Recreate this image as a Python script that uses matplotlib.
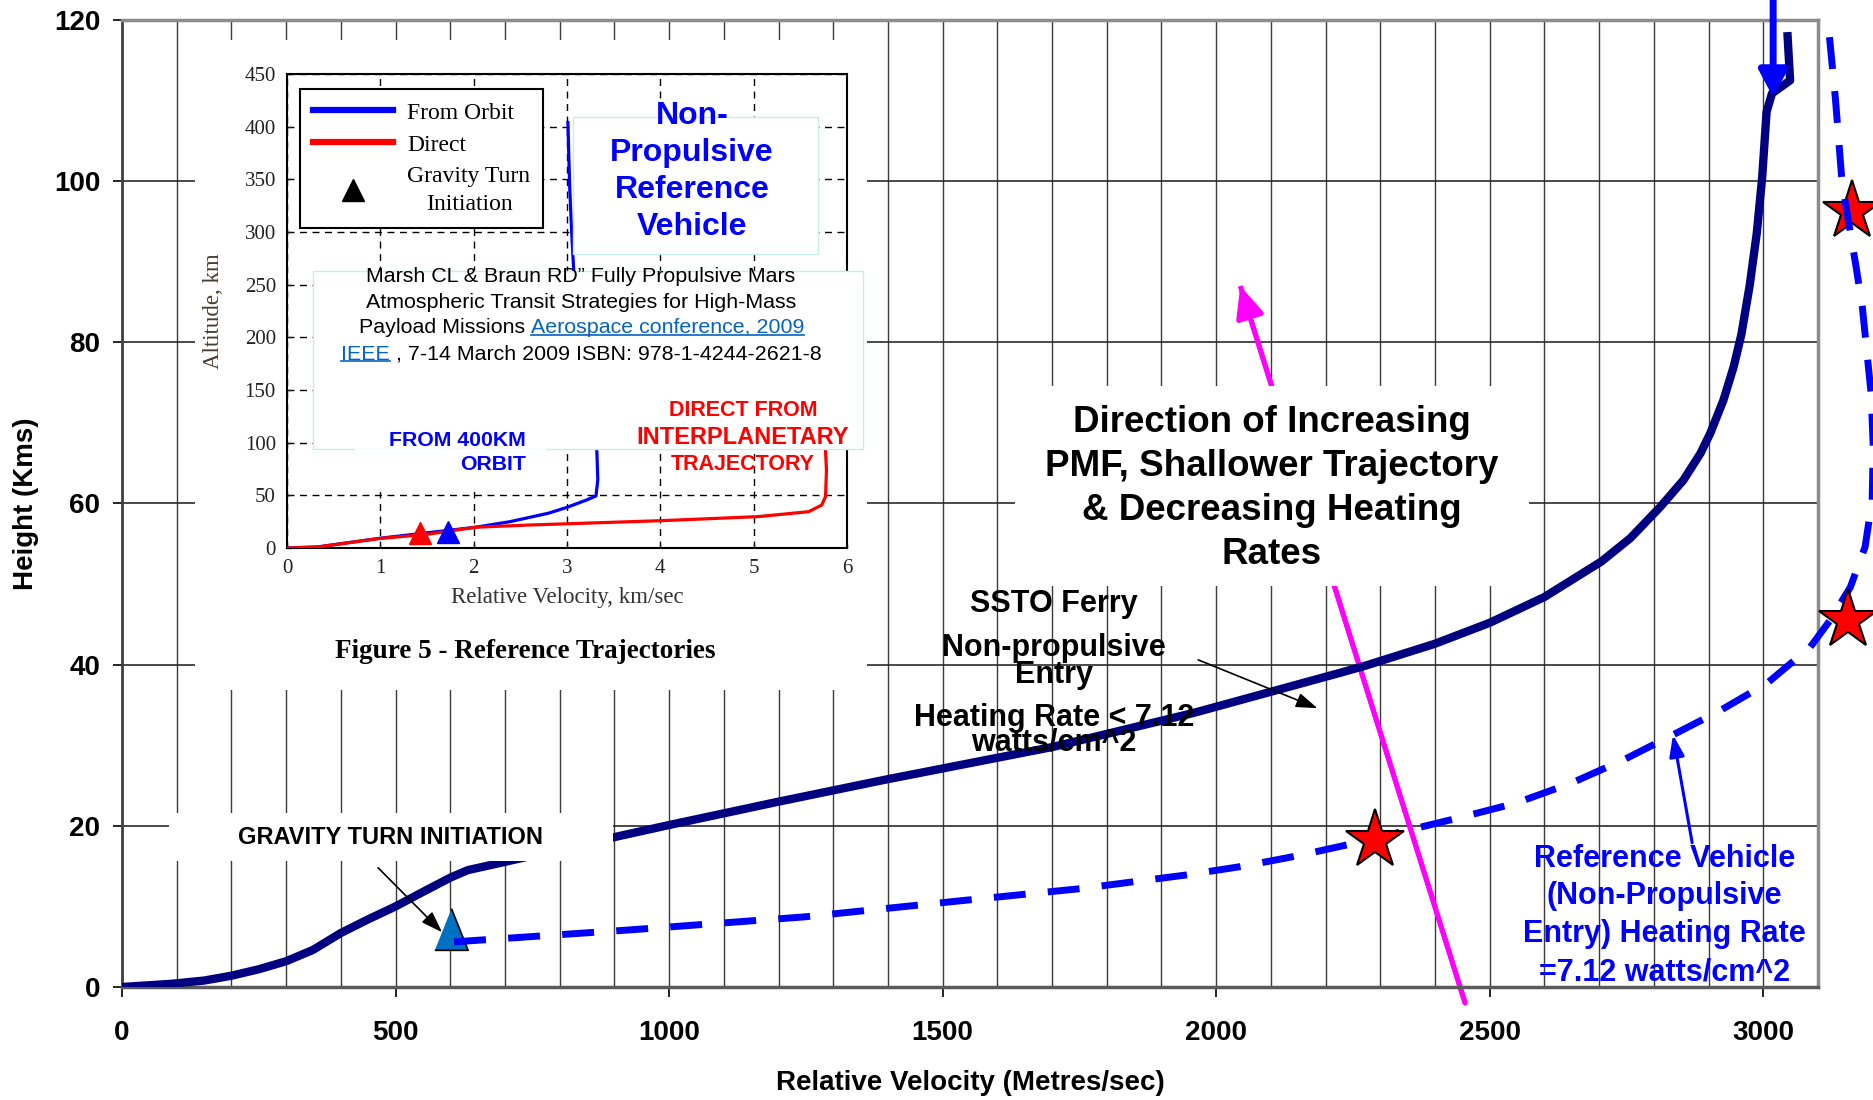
import numpy as np
import matplotlib.pyplot as plt
from matplotlib.patches import Rectangle
from matplotlib.lines import Line2D

# SSTO ferry trajectory: relative velocity (m/s) vs height (km)
ssto_v = [0, 91, 150, 200, 250, 300, 349, 400, 450, 500, 550, 601, 632, 698, 900, 1000,
          1200, 1393, 1702, 1958, 2227, 2274, 2400, 2500, 2600, 2704, 2757, 2812, 2854,
          2885, 2903, 2927, 2946, 2960, 2975, 2988, 2998, 3006, 3016, 3049, 3044]
ssto_h = [0, 0.4, 0.8, 1.4, 2.2, 3.2, 4.6, 6.7, 8.4, 10.0, 11.8, 13.6, 14.5, 15.5, 18.6,
          20.1, 23.0, 25.7, 29.8, 34.0, 39.0, 39.9, 42.6, 45.2, 48.4, 52.8, 55.7, 59.6,
          62.9, 66.2, 68.7, 72.8, 77.0, 81.0, 87.0, 93.5, 100.5, 108.6, 110.9, 112.5, 118.5]

# reference vehicle, non-propulsive entry (dashed)
ref_v = [607, 931, 1247, 1404, 1547, 1751, 1945, 2050, 2150, 2250, 2353, 2444, 2547,
         2649, 2745, 2841, 2921, 3007, 3086, 3122, 3159, 3186, 3199, 3201, 3197, 3181,
         3170, 3144, 3132, 3118]
ref_h = [5.6, 7.1, 8.7, 9.8, 10.8, 12.2, 13.9, 15.0, 16.3, 17.8, 19.5, 21.0, 22.8,
         25.3, 28.2, 31.5, 34.3, 37.7, 42.2, 45.5, 49.6, 54.6, 60.4, 67.0, 73.7, 84.4,
         89.2, 99.8, 110.1, 120.0]

star_v = [2291, 3154, 3162]
star_h = [18.2, 45.5, 96.3]
gt_v = [601]
gt_h = [7.2]

# direction of increasing PMF (magenta arrow) and entry arrow at top
pmf_v = [2455, 2044]
pmf_h = [-2.0, 87.0]
entry_v = [3018, 3018]
entry_h = [123.5, 110.4]

x_ticks = [0, 500, 1000, 1500, 2000, 2500, 3000]
y_ticks = [0, 20, 40, 60, 80, 100, 120]

# inset: Marsh & Braun figure 5 (km/sec vs km)
orbit_v = [0, 0.33, 0.99, 2.02, 2.39, 2.80, 3.00, 3.21, 3.31, 3.33, 3.32, 3.28, 3.15,
           3.08, 3.05, 3.03, 3.02, 3.01]
orbit_h = [0, 1, 9.2, 19.7, 25, 33, 38.6, 45.6, 49.4, 64.6, 91.5, 120, 200, 250, 300,
           340, 370, 404]
direct_v = [0, 0.33, 0.99, 1.5, 2.02, 2.59, 4.03, 5.05, 5.59, 5.73, 5.77, 5.78, 5.77, 5.78]
direct_h = [0, 1, 9, 13, 19.7, 21.8, 26, 29.8, 34.5, 40.8, 49, 74, 92, 200]
inset_gt_v = [1.42, 1.72]
inset_gt_h = [14, 15.5]
inset_x_ticks = [0, 1, 2, 3, 4, 5, 6]
inset_y_ticks = [0, 50, 100, 150, 200, 250, 300, 350, 400, 450]

W, H = 1874, 1100
SANS = ['Liberation Sans', 'DejaVu Sans']
SERIF = ['Liberation Serif', 'DejaVu Serif']
plt.rcParams['font.family'] = SANS


def fxy(px, py):
    return px / W, 1 - py / H


fig = plt.figure(figsize=(W / 100, H / 100), dpi=100)
ax = fig.add_axes([122 / W, 1 - 987 / H, 1696 / W, 967 / H], zorder=0)
ax.set_xlim(0, 3100)
ax.set_ylim(0, 120)
ax.set_axisbelow(True)

ax.set_xticks(x_ticks)
ax.set_xticks(list(range(100, 3100, 100)), minor=True)
ax.set_yticks(y_ticks)
ax.tick_params(axis='x', which='major', direction='out', length=7, width=1.2, pad=17,
               labelsize=20, colors='black')
ax.tick_params(axis='x', which='minor', length=0)
ax.tick_params(axis='y', direction='out', length=6.5, width=1.2, pad=9, labelsize=20)
for lbl in ax.get_xticklabels() + ax.get_yticklabels():
    lbl.set_fontweight('bold')
ax.grid(True, axis='x', which='both', color='#3a3a3a', lw=1)
ax.grid(True, axis='y', which='major', color='#2a2a2a', lw=1.2)

for side in ['top', 'right']:
    ax.spines[side].set_color('#8c8c8c')
    ax.spines[side].set_linewidth(2.5)
ax.spines['bottom'].set_color('#5a5a5a')
ax.spines['bottom'].set_linewidth(2.5)
ax.spines['left'].set_color('#404040')
ax.spines['left'].set_linewidth(2)

ax.set_xlabel('Relative Velocity (Metres/sec)', fontsize=20, fontweight='bold')
ax.set_ylabel('Height (Kms)', fontsize=20, fontweight='bold')
ax.xaxis.label.set_va('center')
ax.yaxis.label.set_va('center')
ax.xaxis.set_label_coords(0.5, (987 - 1083) / 967)
ax.yaxis.set_label_coords((26 - 122) / 1696, 0.5)

# curves
ax.plot(pmf_v, pmf_h, color='#ff00ff', lw=3.6, zorder=1.2, clip_on=False,
        solid_capstyle='butt')
ax.annotate('', xy=(pmf_v[1], pmf_h[1]), xytext=(pmf_v[0], pmf_h[0]), zorder=1.2,
            annotation_clip=False,
            arrowprops=dict(arrowstyle='-|>,head_length=1.9,head_width=0.85',
                            mutation_scale=10, color='#ff00ff', lw=3.6,
                            shrinkA=0, shrinkB=0))
ax.add_patch(Rectangle((1632, 49.75), 940, 24.85, facecolor='white', edgecolor='none',
                       zorder=1.5))

ax.plot(ssto_v, ssto_h, color='#000080', lw=6, zorder=3, solid_capstyle='butt')
ax.add_patch(Rectangle((86, 15.6), 812, 6.0, facecolor='white', edgecolor='none',
                       zorder=3.5))

ax.plot(ref_v, ref_h, color='#0000ff', lw=5, dashes=(4.6, 3.2), zorder=4,
        dash_capstyle='butt', clip_on=False)

ax.plot(star_v[:2], star_h[:2], ls='none', marker='*', ms=44, mfc='red', mec='black',
        mew=1.5, zorder=5, clip_on=False)
ax.plot(star_v[2:], star_h[2:], ls='none', marker='*', ms=44, mfc='red', mec='black',
        mew=1.5, zorder=3.9, clip_on=False)

tri = [(-0.8, -1), (0.8, -1), (0, 1)]
ax.plot(gt_v, gt_h, ls='none', marker=tri, ms=30, mfc='#0070c0', mec='black', mew=1.2,
        zorder=3.8)

ax.annotate('', xy=(entry_v[1], entry_h[1]), xytext=(entry_v[0], entry_h[0]), zorder=4.5,
            annotation_clip=False,
            arrowprops=dict(arrowstyle='-|>,head_length=1.6,head_width=0.85',
                            mutation_scale=10, color='#0000ff', lw=5,
                            shrinkA=0, shrinkB=0, clip_on=False))

# annotations
ax.text(2102, 61.9, 'Direction of Increasing\nPMF, Shallower Trajectory\n'
        '& Decreasing Heating\nRates', ha='center', va='center', fontsize=26.5,
        fontweight='bold', linespacing=1.33, zorder=6)
ax.text(1704, 47.5, 'SSTO Ferry', ha='center', va='center', fontsize=22,
        fontweight='bold', zorder=6)
ax.text(1704, 42.1, 'Non-propulsive', ha='center', va='center', fontsize=22,
        fontweight='bold', zorder=6)
ax.text(1704, 38.7, 'Entry', ha='center', va='center', fontsize=22,
        fontweight='bold', zorder=6)
ax.text(1704, 33.4, 'Heating Rate < 7.12', ha='center', va='center', fontsize=22,
        fontweight='bold', zorder=6)
ax.text(1704, 30.3, 'watts/cm^2', ha='center', va='center', fontsize=22,
        fontweight='bold', zorder=6)
ax.annotate('', xy=(2185, 34.6), xytext=(1967, 40.6), zorder=6,
            arrowprops=dict(arrowstyle='-|>,head_length=1.3,head_width=0.45',
                            mutation_scale=10, color='black', lw=1.2,
                            shrinkA=0, shrinkB=0))

ax.text(2819, 8.9, 'Reference Vehicle\n(Non-Propulsive\nEntry) Heating Rate\n'
        '=7.12 watts/cm^2', ha='center', va='center', fontsize=22, fontweight='bold',
        color='#0000ff', linespacing=1.34, zorder=6)
ax.annotate('', xy=(2835, 31.3), xytext=(2870, 17.9), zorder=6,
            arrowprops=dict(arrowstyle='-|>,head_length=1.3,head_width=0.45',
                            mutation_scale=10, color='#0000ff', lw=2.2,
                            shrinkA=0, shrinkB=0))

ax.text(490, 18.6, 'GRAVITY TURN INITIATION', ha='center', va='center', fontsize=17,
        fontweight='bold', zorder=6)
ax.annotate('', xy=(585, 6.8), xytext=(468, 14.8), zorder=6,
            arrowprops=dict(arrowstyle='-|>,head_length=1.3,head_width=0.45',
                            mutation_scale=10, color='black', lw=1.2,
                            shrinkA=0, shrinkB=0))

# pasted reference figure
x0, y0 = fxy(195, 690)
fig.add_artist(Rectangle((x0, y0), 672 / W, 650 / H, transform=fig.transFigure,
                         facecolor='white', edgecolor='none', zorder=1))

ins = fig.add_axes([287 / W, 1 - 548 / H, 560 / W, 474 / H], zorder=2)
ins.set_xlim(0, 6)
ins.set_ylim(0, 450)
ins.set_xticks(inset_x_ticks)
ins.set_yticks(inset_y_ticks)
ins.tick_params(direction='in', length=3, width=1, labelsize=15, pad=8,
                colors='#222222')
for lbl in ins.get_xticklabels() + ins.get_yticklabels():
    lbl.set_family(SERIF)
ins.grid(True, color='black', lw=1, ls=(0, (5, 4)))
for sp in ins.spines.values():
    sp.set_linewidth(1.5)
    sp.set_color('black')
ins.set_xlabel('Relative Velocity, km/sec', fontsize=16.5, family=SERIF, color='#333333')
ins.set_ylabel('Altitude, km', fontsize=16.5, family=SERIF, color='#4a3c30')
ins.xaxis.label.set_va('center')
ins.yaxis.label.set_va('center')
ins.xaxis.set_label_coords(0.5, (548 - 598) / 474)
ins.yaxis.set_label_coords((214 - 287) / 560, 0.5)

ins.plot(orbit_v, orbit_h, color='#0000ff', lw=2.3, zorder=3)
ins.plot(direct_v, direct_h, color='#ff0000', lw=2.3, zorder=3.1)
ins.plot(inset_gt_v[:1], inset_gt_h[:1], ls='none', marker='^', ms=16, color='#ff0000',
         zorder=4)
ins.plot(inset_gt_v[1:], inset_gt_h[1:], ls='none', marker='^', ms=16, color='#0000ff',
         zorder=4)

handles = [Line2D([], [], color='#0000ff', lw=4.5),
           Line2D([], [], color='#ff0000', lw=4.5),
           Line2D([], [], ls='none', marker='^', ms=16, color='black')]
leg = ins.legend(handles, ['From Orbit', 'Direct', 'Gravity Turn\nInitiation'],
                 loc='upper left', bbox_to_anchor=((300 - 287) / 560, (548 - 89) / 474),
                 borderaxespad=0, frameon=True, fancybox=False, framealpha=1,
                 edgecolor='black', prop={'family': SERIF, 'size': 17},
                 handlelength=3.4, handletextpad=0.6, borderpad=0.55,
                 labelspacing=0.45)
leg.get_frame().set_linewidth(1.5)
leg.get_texts()[2].set_multialignment('center')
leg.get_texts()[2].set_linespacing(1.4)
leg.set_zorder(5)

fig.text(*fxy(525, 651), 'Figure 5 - Reference Trajectories', ha='center', va='center',
         fontsize=19.5, fontweight='bold', family=SERIF, zorder=4)

# boxes pasted over the inset
x0, y0 = fxy(573, 254)
fig.add_artist(Rectangle((x0, y0), 245 / W, 137 / H, transform=fig.transFigure,
                         facecolor='white', edgecolor='#c8ece8', lw=1, zorder=3))
fig.text(*fxy(692, 171.5), 'Non-\nPropulsive\nReference\nVehicle', ha='center',
         va='center', fontsize=23, fontweight='bold', color='#0000ff',
         linespacing=1.31, zorder=4)

x0, y0 = fxy(313, 449)
fig.add_artist(Rectangle((x0, y0), 550 / W, 178 / H, transform=fig.transFigure,
                         facecolor='white', edgecolor='#c8ece8', lw=1, zorder=3))
x0, y0 = fxy(355, 492)
fig.add_artist(Rectangle((x0, y0), 191 / W, 43 / H, transform=fig.transFigure,
                         facecolor='white', edgecolor='none', zorder=3.5))

rend = fig.canvas.get_renderer()
cite_kw = dict(fontsize=15.4, family=SANS)


def text_w(s):
    t = fig.text(0, 0, s, **cite_kw)
    w = t.get_window_extent(rend).width
    t.remove()
    return w


def rich_line(parts, cx, cy):
    full = ''.join(p[0] for p in parts)
    left = cx - text_w(full) / 2
    done = ''
    for s, color, link in parts:
        off = text_w(done + '|') - text_w('|') if done else 0
        t = fig.text(*fxy(left + off, cy), s, color=color, ha='left', va='center',
                     zorder=4, **cite_kw)
        if link:
            ext = t.get_window_extent(rend)
            uy = ext.y0 + 2.5
            fig.add_artist(Line2D([ext.x0 / W, ext.x1 / W], [uy / H, uy / H],
                                  transform=fig.transFigure, color=color, lw=1.2,
                                  zorder=4))
        done += s


link_c = '#0563c1'
rich_line([('Marsh CL & Braun RD\u201d Fully Propulsive Mars', 'black', False)], 581, 277)
rich_line([('Atmospheric Transit Strategies for High-Mass', 'black', False)], 581, 303)
rich_line([('Payload Missions ', 'black', False),
           ('Aerospace conference, 2009', link_c, True)], 581, 328)
rich_line([('IEEE', link_c, True),
           (' , 7-14 March 2009 ISBN: 978-1-4244-2621-8', 'black', False)], 581, 354)

fig.text(*fxy(743, 410), 'DIRECT FROM', ha='center', va='center', fontsize=15.5,
         fontweight='bold', color='#ff0000', zorder=4)
fig.text(*fxy(743, 437.5), 'INTERPLANETARY', ha='center', va='center', fontsize=17,
         fontweight='bold', color='#ff0000', zorder=4)
fig.text(*fxy(743, 465), 'TRAJECTORY', ha='center', va='center', fontsize=15.5,
         fontweight='bold', color='#ff0000', zorder=4)
fig.text(*fxy(526, 440), 'FROM 400KM', ha='right', va='center', fontsize=15.3,
         fontweight='bold', color='#0000ff', zorder=4)
fig.text(*fxy(526, 465), 'ORBIT', ha='right', va='center', fontsize=15.3,
         fontweight='bold', color='#0000ff', zorder=4)

fig.savefig('out.png', dpi=100, facecolor='white')
